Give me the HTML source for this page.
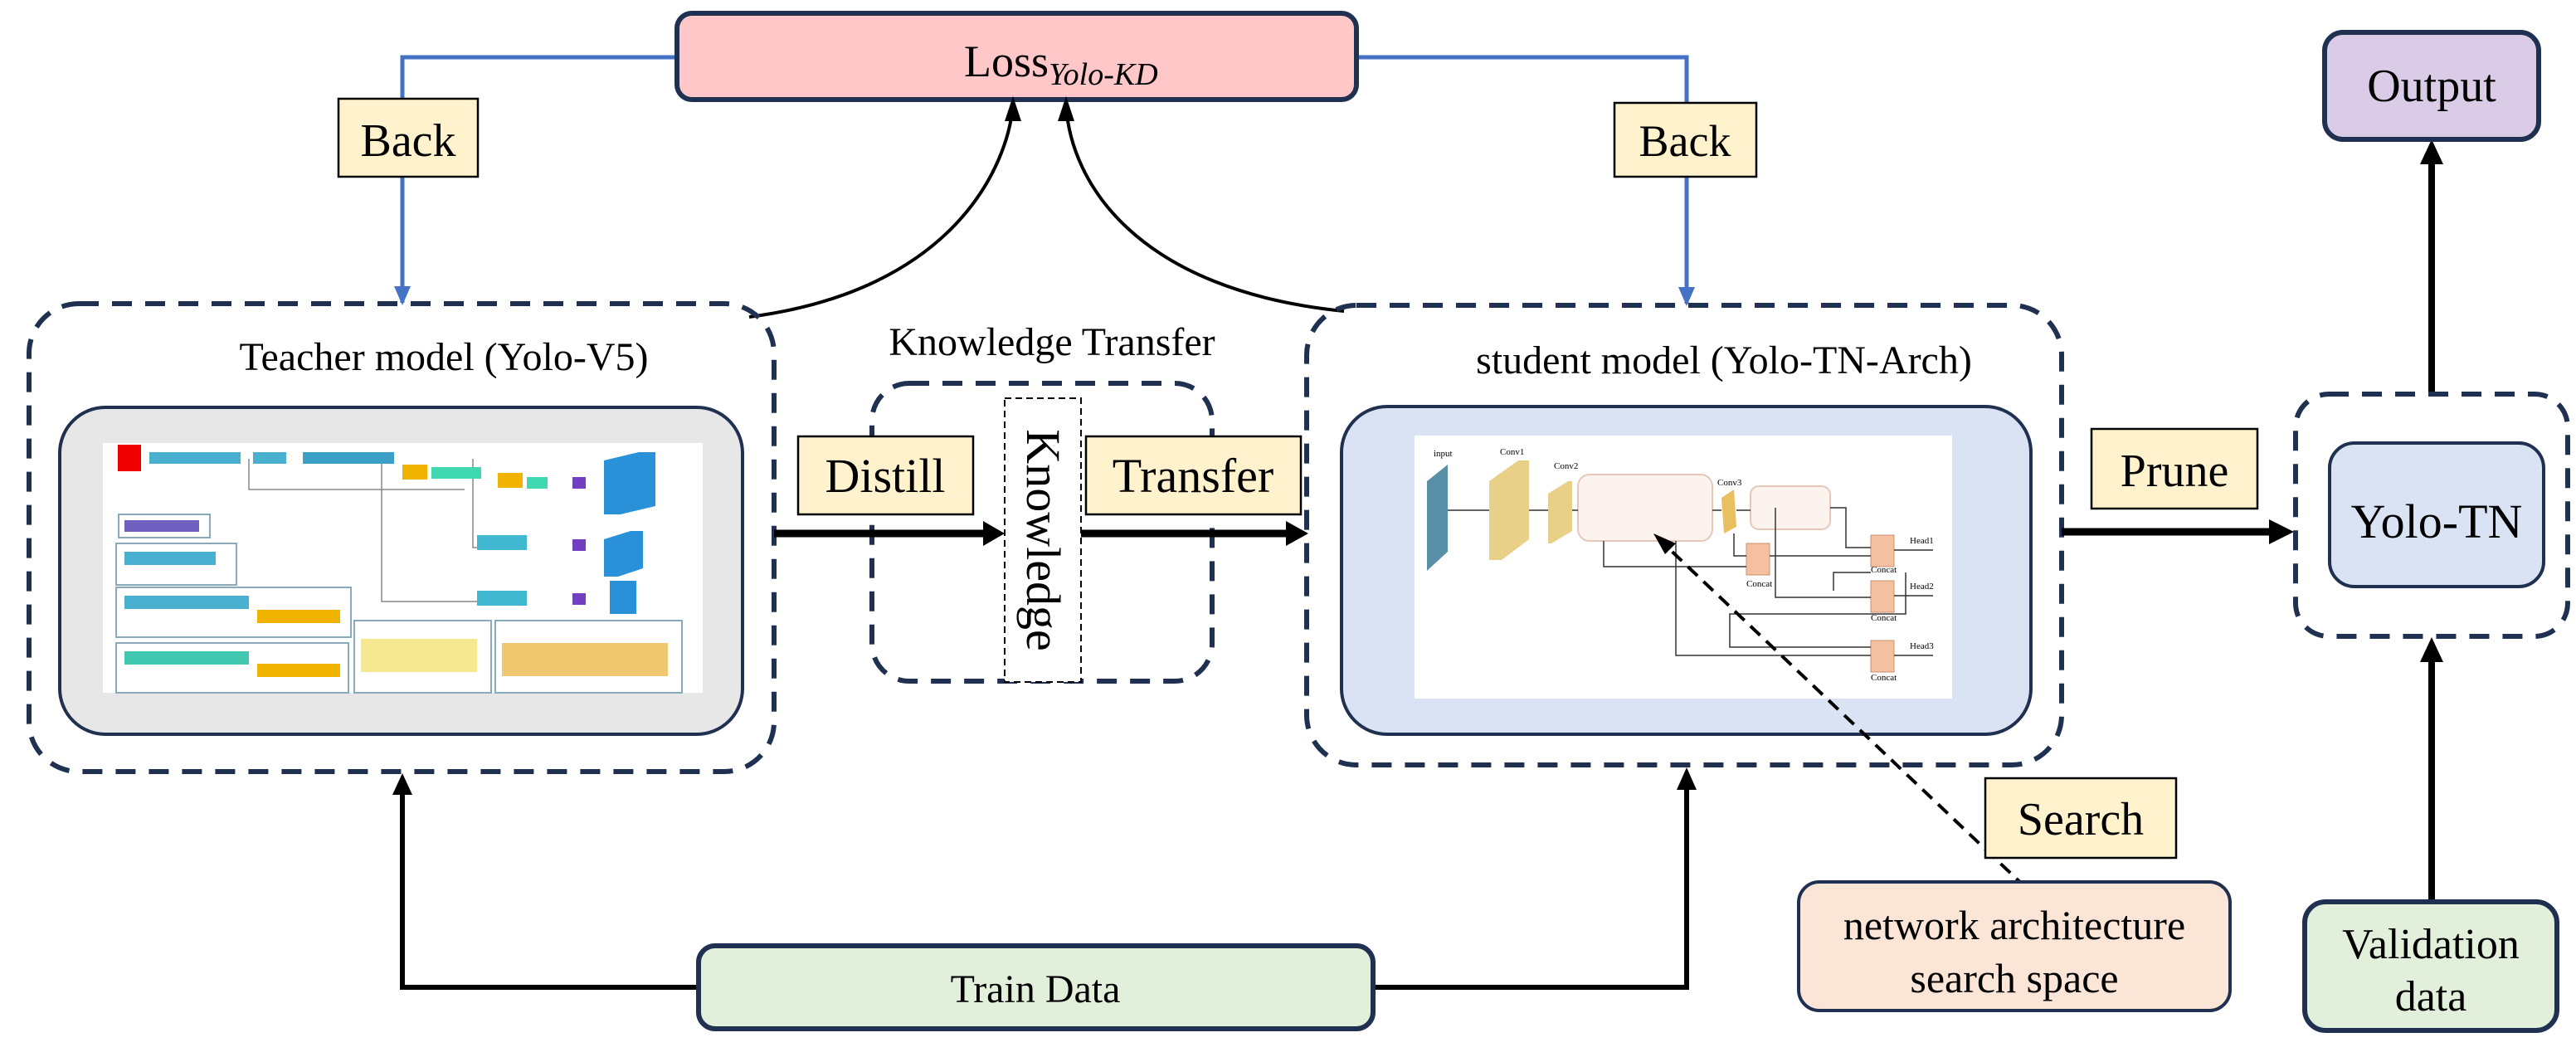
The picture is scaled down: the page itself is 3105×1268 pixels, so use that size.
<!DOCTYPE html>
<html><head><meta charset="utf-8"><style>
html,body{margin:0;padding:0;background:#fff}
svg{display:block}
text{font-family:"Liberation Serif",serif;fill:#000}
</style></head><body>
<svg width="3105" height="1268" viewBox="0 0 3105 1268" xmlns="http://www.w3.org/2000/svg">
<!-- blue back lines -->
<polyline points="818,69 485,69 485,365" fill="none" stroke="#4472c4" stroke-width="5"/>
<path d="M475,345 L485,368 L495,345z" fill="#4472c4"/>
<polyline points="1635,69 2033,69 2033,366" fill="none" stroke="#4472c4" stroke-width="5"/>
<path d="M2023,346 L2033,369 L2043,346z" fill="#4472c4"/>
<!-- loss -->
<rect x="816" y="16" width="819" height="104" rx="18" fill="#ffc7c8" stroke="#1f3050" stroke-width="6"/>
<text x="1162" y="92" font-size="54">Loss<tspan font-size="38" font-style="italic" dy="10">Yolo-KD</tspan></text>
<!-- back boxes -->
<rect x="408" y="119" width="168" height="94" fill="#fff2cc" stroke="#000" stroke-width="2.5"/>
<text x="492" y="188" font-size="56" text-anchor="middle">Back</text>
<rect x="1946" y="124" width="171" height="89" fill="#fff2cc" stroke="#000" stroke-width="2.5"/>
<text x="2031" y="188" font-size="54" text-anchor="middle">Back</text>
<!-- curves -->
<path d="M903,382 C1150,350 1215,200 1221,126" fill="none" stroke="#000" stroke-width="4"/>
<path d="M1211,146 L1221,116 L1231,146z" fill="#000"/>
<path d="M1620,375 C1370,350 1290,220 1285,126" fill="none" stroke="#000" stroke-width="4"/>
<path d="M1275,146 L1285,116 L1295,146z" fill="#000"/>
<!-- teacher -->
<rect x="35" y="366" width="898" height="564" rx="60" fill="none" stroke="#1f3050" stroke-width="6" stroke-dasharray="24,16"/>
<text x="535" y="446" font-size="48" text-anchor="middle">Teacher model (Yolo-V5)</text>
<rect x="72" y="491" width="823" height="394" rx="55" fill="#e7e7e7" stroke="#1f3050" stroke-width="4"/>
<rect x="124" y="534" width="723" height="301" fill="#fff"/>
<g stroke="#888" stroke-width="1.5" fill="none">
<path d="M300,553 L300,590 L560,590 M460,553 L460,725 L590,725 M570,553 L570,660 L590,660"/>
</g>
<rect x="142" y="536" width="28" height="32" fill="#e00"/>
<g>
<rect x="180" y="545" width="110" height="14" fill="#4ab0d0"/>
<rect x="305" y="545" width="40" height="14" fill="#4ab0d0"/>
<rect x="365" y="545" width="110" height="14" fill="#3aa0c8"/>
<rect x="485" y="560" width="30" height="18" fill="#f0b400"/>
<rect x="520" y="563" width="60" height="14" fill="#40d8b0"/>
<rect x="600" y="570" width="30" height="18" fill="#f0b400"/>
<rect x="635" y="575" width="25" height="14" fill="#40d8b0"/>
<rect x="690" y="575" width="16" height="14" fill="#7040c0"/>
<path d="M728,555 L770,545 L790,545 L790,610 L748,620 L728,620z" fill="#2a90d8"/>
<rect x="575" y="645" width="60" height="18" fill="#40b8d0"/>
<rect x="690" y="650" width="16" height="14" fill="#7040c0"/>
<path d="M728,650 L760,640 L775,640 L775,685 L745,695 L728,695z" fill="#2a90d8"/>
<rect x="575" y="712" width="60" height="18" fill="#40b8d0"/>
<rect x="690" y="715" width="16" height="14" fill="#7040c0"/>
<rect x="735" y="700" width="32" height="40" fill="#2a90d8"/>
<rect x="143" y="620" width="110" height="28" fill="none" stroke="#8ab" stroke-width="2"/>
<rect x="140" y="655" width="145" height="50" fill="none" stroke="#8ab" stroke-width="2"/>
<rect x="140" y="708" width="283" height="60" fill="none" stroke="#8ab" stroke-width="2"/>
<rect x="140" y="775" width="280" height="60" fill="none" stroke="#8ab" stroke-width="2"/>
<rect x="427" y="748" width="165" height="87" fill="none" stroke="#8ab" stroke-width="2"/>
<rect x="597" y="748" width="225" height="87" fill="none" stroke="#8ab" stroke-width="2"/>
<rect x="150" y="627" width="90" height="14" fill="#7060c0"/>
<rect x="150" y="665" width="110" height="16" fill="#4ab0d0"/>
<rect x="150" y="718" width="150" height="16" fill="#4ab0d0"/>
<rect x="310" y="735" width="100" height="16" fill="#f0b400"/>
<rect x="150" y="785" width="150" height="16" fill="#40c8b0"/>
<rect x="310" y="800" width="100" height="16" fill="#f0b400"/>
<rect x="435" y="770" width="140" height="40" fill="#f5e890"/>
<rect x="605" y="775" width="200" height="40" fill="#f0c870"/>
</g>
<!-- knowledge transfer -->
<text x="1268" y="428" font-size="48" text-anchor="middle">Knowledge Transfer</text>
<rect x="1051" y="462" width="410" height="359" rx="45" fill="none" stroke="#1f3050" stroke-width="6" stroke-dasharray="24,16"/>
<rect x="1211" y="480" width="92" height="342" fill="#fff" stroke="#000" stroke-width="2" stroke-dasharray="8,5"/>
<text x="0" y="0" font-size="58" text-anchor="middle" transform="translate(1238,651) rotate(90)">Knowledge</text>
<rect x="962" y="526" width="211" height="94" fill="#fff2cc" stroke="#000" stroke-width="2.5"/>
<text x="1067" y="593" font-size="58" text-anchor="middle">Distill</text>
<rect x="1309" y="526" width="259" height="94" fill="#fff2cc" stroke="#000" stroke-width="2.5"/>
<text x="1438" y="593" font-size="58" text-anchor="middle">Transfer</text>
<line x1="933" y1="643" x2="1190" y2="643" stroke="#000" stroke-width="9"/>
<path d="M1185,628 L1211,643 L1185,658z" fill="#000"/>
<line x1="1303" y1="643" x2="1555" y2="643" stroke="#000" stroke-width="9"/>
<path d="M1550,628 L1577,643 L1550,658z" fill="#000"/>
<!-- student -->
<rect x="1575" y="368" width="910" height="554" rx="60" fill="none" stroke="#1f3050" stroke-width="6" stroke-dasharray="24,16"/>
<text x="2078" y="450" font-size="48" text-anchor="middle">student model (Yolo-TN-Arch)</text>
<rect x="1617" y="490" width="831" height="395" rx="55" fill="#dae3f3" stroke="#1f3050" stroke-width="4"/>
<rect x="1705" y="525" width="648" height="317" fill="#fff"/>
<path d="M1720,580 L1745,560 L1745,665 L1720,688z" fill="#5a8fa8"/>
<path d="M1795,580 L1830,555 L1843,555 L1843,650 L1810,675 L1795,675z" fill="#e8d088"/>
<path d="M1866,595 L1890,580 L1895,580 L1895,640 L1870,655 L1866,655z" fill="#e8d088"/>
<rect x="1902" y="572" width="162" height="80" rx="14" fill="#fdf3ee" stroke="#e6c8b8" stroke-width="2"/>
<path d="M2075,600 L2090,590 L2093,635 L2078,643z" fill="#e8c060"/>
<rect x="2110" y="586" width="96" height="52" rx="10" fill="#fdf3ee" stroke="#e6c8b8" stroke-width="2"/>
<g fill="#f4c0a0" stroke="#c89070" stroke-width="1">
<rect x="2105" y="655" width="28" height="38"/><rect x="2255" y="645" width="28" height="38"/><rect x="2255" y="700" width="28" height="38"/><rect x="2255" y="772" width="28" height="38"/>
</g>
<g stroke="#333" stroke-width="1.5" fill="none">
<path d="M1745,615 L1795,615 M1843,615 L1866,615 M1895,615 L1902,615 M2064,615 L2075,615 M2093,615 L2110,615"/>
<path d="M1933,652 L1933,683 L2105,683 M2090,643 L2090,670 L2105,670 M2133,670 L2255,670 M2206,612 L2225,612 L2225,660 L2255,660"/>
<path d="M2140,612 L2140,720 L2255,720 M2255,690 L2210,690 L2210,712 M2020,652 L2020,790 L2255,790 M2297,690 L2297,740 L2085,740 L2085,780 L2255,780"/>
<path d="M2283,663 L2330,663 M2283,718 L2330,718 M2283,790 L2330,790"/>
</g>
<g font-size="11"><text x="1728" y="550">input</text><text x="1808" y="548">Conv1</text><text x="1873" y="565">Conv2</text><text x="2070" y="585">Conv3</text><text x="2105" y="707">Concat</text><text x="2255" y="690">Concat</text><text x="2255" y="748">Concat</text><text x="2255" y="820">Concat</text><text x="2302" y="655">Head1</text><text x="2302" y="710">Head2</text><text x="2302" y="782">Head3</text></g>
<!-- search dashed -->
<line x1="2442" y1="1070" x2="2005" y2="655" stroke="#000" stroke-width="4" stroke-dasharray="16,10"/>
<path d="M1993,643 L2020,655 L2007,668z" fill="#000"/>
<rect x="2393" y="938" width="230" height="96" fill="#fff2cc" stroke="#000" stroke-width="2.5"/>
<text x="2508" y="1006" font-size="56" text-anchor="middle">Search</text>
<rect x="2168" y="1063" width="520" height="155" rx="25" fill="#fbe5d6" stroke="#1f3050" stroke-width="4"/>
<text x="2428" y="1132" font-size="50" text-anchor="middle">network architecture</text>
<text x="2428" y="1196" font-size="50" text-anchor="middle">search space</text>
<!-- train -->
<polyline points="842,1190 485,1190 485,955" fill="none" stroke="#000" stroke-width="6"/>
<path d="M473,958 L485,932 L497,958z" fill="#000"/>
<polyline points="1655,1190 2033,1190 2033,950" fill="none" stroke="#000" stroke-width="6"/>
<path d="M2021,952 L2033,925 L2045,952z" fill="#000"/>
<rect x="842" y="1140" width="813" height="100" rx="20" fill="#e2efda" stroke="#1f3050" stroke-width="6"/>
<text x="1248" y="1208" font-size="48" text-anchor="middle">Train Data</text>
<!-- prune -->
<rect x="2521" y="517" width="200" height="96" fill="#fff2cc" stroke="#000" stroke-width="2.5"/>
<text x="2621" y="586" font-size="56" text-anchor="middle">Prune</text>
<line x1="2485" y1="641" x2="2740" y2="641" stroke="#000" stroke-width="9"/>
<path d="M2735,626 L2765,641 L2735,656z" fill="#000"/>
<!-- yolo-tn -->
<rect x="2767" y="475" width="328" height="292" rx="40" fill="none" stroke="#1f3050" stroke-width="6" stroke-dasharray="24,16"/>
<rect x="2808" y="534" width="258" height="173" rx="30" fill="#dae3f3" stroke="#1f3050" stroke-width="4"/>
<text x="2937" y="648" font-size="58" text-anchor="middle">Yolo-TN</text>
<line x1="2931" y1="472" x2="2931" y2="195" stroke="#000" stroke-width="8"/>
<path d="M2917,198 L2931,168 L2945,198z" fill="#000"/>
<rect x="2802" y="39" width="258" height="129" rx="22" fill="#dacce6" stroke="#1f3050" stroke-width="6"/>
<text x="2931" y="122" font-size="56" text-anchor="middle">Output</text>
<line x1="2931" y1="1087" x2="2931" y2="795" stroke="#000" stroke-width="8"/>
<path d="M2917,798 L2931,768 L2945,798z" fill="#000"/>
<rect x="2778" y="1087" width="304" height="155" rx="25" fill="#e2efda" stroke="#1f3050" stroke-width="6"/>
<text x="2930" y="1155" font-size="52" text-anchor="middle">Validation</text>
<text x="2930" y="1218" font-size="52" text-anchor="middle">data</text>
</svg>
</body></html>
